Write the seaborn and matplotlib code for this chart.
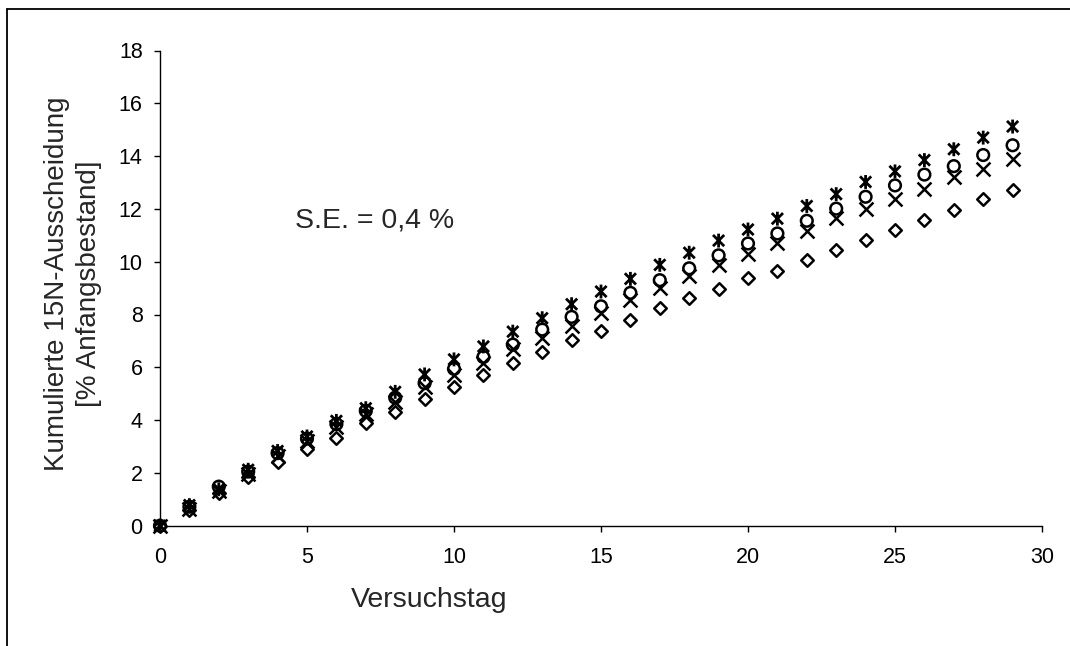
import matplotlib
matplotlib.use("Agg")
import matplotlib.pyplot as plt
import seaborn as sns
import numpy as np
import pandas as pd
from matplotlib.path import Path
from matplotlib.lines import Line2D

# ---- data ----
days = list(range(30))
series_diamond = [0, 0.60, 1.25, 1.85, 2.40, 2.90, 3.32, 3.89, 4.29, 4.80, 5.25, 5.71, 6.16, 6.59, 7.02,
                  7.38, 7.78, 8.24, 8.61, 8.97, 9.37, 9.65, 10.08, 10.44, 10.82, 11.20, 11.57, 11.95, 12.36, 12.71]
series_x = [0, 0.65, 1.30, 1.95, 2.65, 3.20, 3.75, 4.25, 4.70, 5.25, 5.70, 6.16, 6.69, 7.10, 7.58,
            8.06, 8.54, 9.00, 9.45, 9.88, 10.31, 10.72, 11.17, 11.65, 12.01, 12.39, 12.77, 13.21, 13.53, 13.90]
series_circle = [0, 0.72, 1.48, 2.05, 2.75, 3.30, 3.85, 4.35, 4.85, 5.40, 5.94, 6.39, 6.86, 7.43, 7.91,
                 8.31, 8.82, 9.30, 9.75, 10.24, 10.69, 11.07, 11.55, 12.01, 12.46, 12.89, 13.30, 13.62, 14.04, 14.41]
series_star = [0, 0.78, 1.38, 2.12, 2.83, 3.38, 3.97, 4.45, 5.07, 5.73, 6.30, 6.79, 7.35, 7.86, 8.39,
               8.87, 9.35, 9.88, 10.34, 10.80, 11.22, 11.63, 12.11, 12.56, 13.02, 13.42, 13.85, 14.26, 14.70, 15.12]
x_ticks = [0, 5, 10, 15, 20, 25, 30]
y_ticks = [0, 2, 4, 6, 8, 10, 12, 14, 16, 18]
x_label = "Versuchstag"
y_label = "Kumulierte 15N-Ausscheidung\n[% Anfangsbestand]"
annotation = "S.E. = 0,4 %"

sns.set_style("ticks")
plt.rcParams["font.family"] = ["Liberation Sans", "DejaVu Sans"]

fig = plt.figure(figsize=(10.7, 6.46), dpi=100)
W, H = 1070, 646
ax = fig.add_axes([160 / W, 1 - 525.7 / H, (1042 - 160) / W, (525.7 - 50.5) / H])

df = pd.DataFrame({"day": days, "diamond": series_diamond, "x": series_x,
                   "circle": series_circle, "star": series_star})

asterisk = Path([(-0.5, -0.5), (0.5, 0.5), (-0.5, 0.5), (0.5, -0.5), (0, -0.62), (0, 0.62)],
                [Path.MOVETO, Path.LINETO, Path.MOVETO, Path.LINETO, Path.MOVETO, Path.LINETO])

lw = 1.8
sns.scatterplot(data=df, x="day", y="diamond", marker="D", s=6.4 ** 2, facecolor="white",
                edgecolor="black", linewidth=lw, ax=ax, zorder=3, clip_on=False)
sns.scatterplot(data=df, x="day", y="x", marker="x", s=10 ** 2, color="black",
                linewidth=lw, ax=ax, zorder=3, clip_on=False)
sns.scatterplot(data=df, x="day", y="circle", marker="o", s=8.4 ** 2, facecolor="none",
                edgecolor="black", linewidth=lw, ax=ax, zorder=3, clip_on=False)
sns.scatterplot(data=df, x="day", y="star", marker=asterisk, s=10 ** 2, facecolor="none",
                edgecolor="black", color="black", linewidth=2.0, ax=ax, zorder=3, clip_on=False)

ax.set_xlim(0, 30)
ax.set_ylim(0, 18)
ax.set_xticks(x_ticks)
ax.set_yticks(y_ticks)
ax.tick_params(axis="both", direction="out", length=4.5, width=1, color="black",
               labelsize=15.5, labelcolor="black")
ax.tick_params(axis="y", pad=8)
ax.tick_params(axis="x", pad=11)
for s in ["top", "right"]:
    ax.spines[s].set_visible(False)
for s in ["left", "bottom"]:
    ax.spines[s].set_color("black")
    ax.spines[s].set_linewidth(1)

ax.set_xlabel(x_label, fontsize=20.5)
ax.set_ylabel(y_label, fontsize=20, linespacing=1.28)
ax.xaxis.set_label_coords((429 - 160) / 882, -0.13)
ax.yaxis.set_label_coords(-0.066, 0.51)

ax.text(4.59, 11.56, annotation, fontsize=20.5, ha="left", va="center")

# figure frame (top and left edges visible)
fig.add_artist(Line2D([7 / W, 1], [1 - 9 / H, 1 - 9 / H], color="black", lw=1.3,
                      transform=fig.transFigure))
fig.add_artist(Line2D([7 / W, 7 / W], [0, 1 - 9 / H], color="black", lw=1.3,
                      transform=fig.transFigure))

fig.savefig("out.png", dpi=100, facecolor="white")
